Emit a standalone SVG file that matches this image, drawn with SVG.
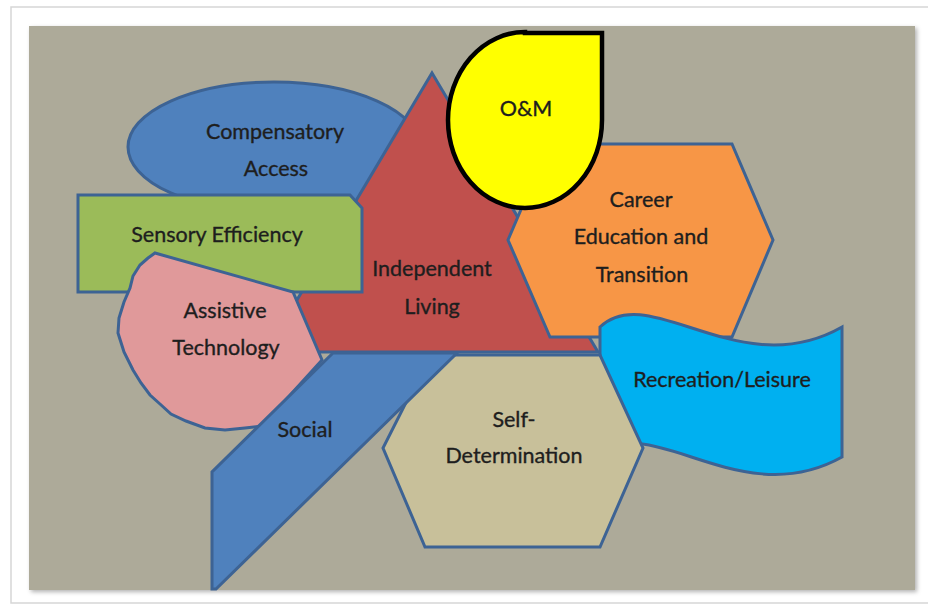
<svg xmlns="http://www.w3.org/2000/svg" width="928" height="605" viewBox="0 0 928 605">
<defs>
<style>
.shape{stroke:#3d6394;stroke-width:3;stroke-linejoin:miter}
.lbl{font-family:Lato,"Liberation Sans",sans-serif;font-size:21.5px;fill:#1e1e1e;stroke:#1e1e1e;stroke-width:0.35;text-anchor:middle}
</style>
<filter id="sh" x="-5%" y="-5%" width="110%" height="110%">
<feDropShadow dx="2" dy="2" stdDeviation="2" flood-color="#000" flood-opacity="0.3"/>
</filter>
</defs>
<rect x="0" y="0" width="928" height="605" fill="#ffffff"/>
<rect x="11" y="7" width="930" height="596" fill="#ffffff" stroke="#d6d6d6" stroke-width="1.5"/>
<rect x="29" y="26" width="886" height="564" fill="#adaa99" filter="url(#sh)"/>

<g id="compensatory-access">
<ellipse class="shape" cx="274" cy="147" rx="146" ry="65" fill="#4f81bd"/>
<text class="lbl" x="275" y="139">Compensatory</text>
<text class="lbl" x="276" y="176">Access</text>
</g>

<g id="independent-living">
<polygon class="shape" points="432,73 598,352 266,352" fill="#c0504d"/>
<text class="lbl" x="432" y="276">Independent</text>
<text class="lbl" x="432" y="314">Living</text>
</g>

<g id="sensory-efficiency">
<polygon class="shape" points="78,195 350,195 362,208 362,292 78,292" fill="#9bbb59"/>
<text class="lbl" x="217" y="242">Sensory Efficiency</text>
</g>

<g id="assistive-technology">
<path class="shape" fill="#e0999a" d="M155,253 L293,292 L322,360 L262,426 L245,428 L225,430 L205,428 L186,421 L171,414 L160,404 L150,395 L141,383 L133,370 L124,352 L118,333 L119,318 L124,302 L130,288 L133,276 L140,265 L148,258 Z"/>
<text class="lbl" x="225" y="318">Assistive</text>
<text class="lbl" x="226" y="355">Technology</text>
</g>

<g id="career-education-transition">
<polygon class="shape" points="549,144 732,144 773,240 732,337 550,337 508,240" fill="#f79646"/>
<text class="lbl" x="641" y="207">Career</text>
<text class="lbl" x="641" y="244">Education and</text>
<text class="lbl" x="642" y="282">Transition</text>
</g>

<g id="om">
<path d="M525,33 L602,33 L602,120 A77,88 0 1 1 525,32 Z" fill="#ffff00" stroke="#000000" stroke-width="4.5"/>
<text class="lbl" x="526" y="116">O&amp;M</text>
</g>

<g id="recreation-leisure">
<path class="shape" fill="#00b0f0" d="M600,327 C650,280 740,385 842,327 L842,457 C740,514 650,409 600,456 Z"/>
<text class="lbl" x="722" y="387">Recreation/Leisure</text>
</g>

<g id="self-determination">
<polygon class="shape" points="430,355 600,355 643,448 600,547 425,547 383,448" fill="#c8c09a"/>
<text class="lbl" x="514" y="427">Self-</text>
<text class="lbl" x="514" y="463">Determination</text>
</g>

<g id="social">
<polygon class="shape" points="333,353 457,353 216,589 212,589 212,472" fill="#4f81bd"/>
<text class="lbl" x="305" y="437">Social</text>
</g>

<g id="connectors"></g>
</svg>
